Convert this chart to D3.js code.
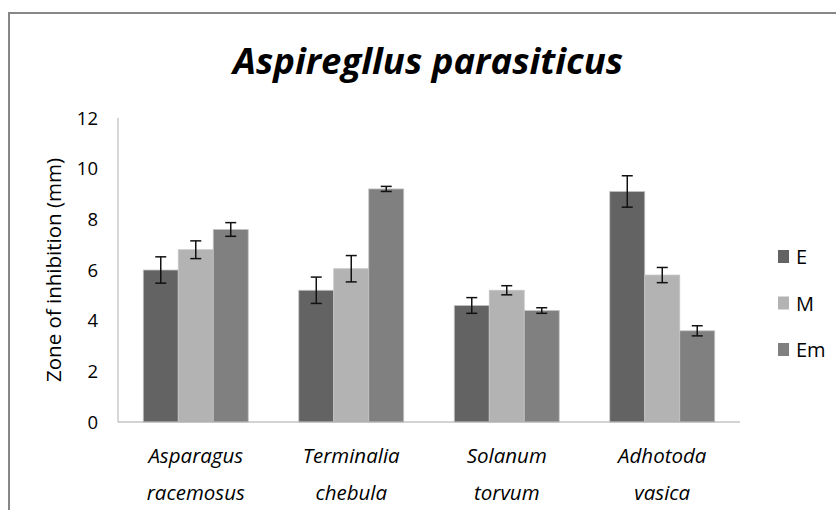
<!DOCTYPE html>
<html>
<head>
<meta charset="utf-8">
<script src="https://cdn.jsdelivr.net/npm/d3@7"></script>
<style>
  html, body { margin: 0; padding: 0; background: #fff; }
  svg { display: block; }
</style>
</head>
<body>
<svg id="chart" width="836" height="510"></svg>
<script>
const categories = [["Asparagus", "racemosus"], ["Terminalia", "chebula"], ["Solanum", "torvum"], ["Adhotoda", "vasica"]];
const seriesNames = ["E", "M", "Em"];
const valuesE  = [6.0, 5.2, 4.6, 9.1];
const valuesM  = [6.8, 6.05, 5.2, 5.8];
const valuesEm = [7.6, 9.2, 4.4, 3.6];
const errE  = [0.52, 0.52, 0.31, 0.62];
const errM  = [0.35, 0.52, 0.18, 0.3];
const errEm = [0.27, 0.1, 0.11, 0.2];
const yTicks = [0, 2, 4, 6, 8, 10, 12];
const colors = ["#636363", "#b3b3b3", "#808080"];

const seriesVals = [valuesE, valuesM, valuesEm];
const seriesErr = [errE, errM, errEm];

const svg = d3.select("#chart");
const W = 836, H = 510;
const plot = { left: 118, right: 740, top: 118, bottom: 422 };

// outer frame
svg.append("path")
  .attr("d", `M9,${H + 5} L9,13 L${W + 5},13`)
  .attr("fill", "none").attr("stroke", "#878787").attr("stroke-width", 2);

// title
svg.append("text")
  .attr("x", 428).attr("y", 74)
  .attr("text-anchor", "middle")
  .attr("font-family", "'Open Sans', sans-serif")
  .attr("font-weight", "bold").attr("font-style", "italic")
  .attr("font-size", 36.5)
  .attr("fill", "#000")
  .text("Aspiregllus parasiticus");

const x0 = d3.scaleBand()
  .domain(d3.range(categories.length))
  .range([plot.left, plot.right])
  .paddingInner(0.325).paddingOuter(0.1625);
const x1 = d3.scaleBand()
  .domain(d3.range(seriesNames.length))
  .range([0, x0.bandwidth()]);
const y = d3.scaleLinear().domain([0, 12]).range([plot.bottom, plot.top]);

// y tick labels
svg.append("g").selectAll("text").data(yTicks).join("text")
  .attr("x", 98).attr("y", d => y(d) + 6.5)
  .attr("text-anchor", "end")
  .attr("font-family", "'Open Sans', sans-serif")
  .attr("font-size", 18.5).attr("fill", "#000")
  .text(d => d);

// y axis title
svg.append("text")
  .attr("transform", `translate(61,${(plot.top + plot.bottom) / 2}) rotate(-90)`)
  .attr("text-anchor", "middle")
  .attr("font-family", "'Open Sans', sans-serif")
  .attr("font-size", 20.5).attr("fill", "#000")
  .text("Zone of inhibition (mm)");

// bars
const groups = svg.append("g").selectAll("g").data(categories).join("g")
  .attr("transform", (d, i) => `translate(${x0(i)},0)`);

groups.each(function(cat, ci) {
  const g = d3.select(this);
  seriesNames.forEach((s, si) => {
    const v = seriesVals[si][ci];
    g.append("rect")
      .attr("x", x1(si)).attr("y", y(v))
      .attr("width", x1.bandwidth()).attr("height", y(0) - y(v))
      .attr("fill", colors[si])
      .attr("stroke", "#c4c4c4").attr("stroke-width", 0.8);
  });
});

// axes lines
svg.append("line")
  .attr("x1", plot.left).attr("x2", plot.left)
  .attr("y1", y(12)).attr("y2", y(0))
  .attr("stroke", "#b0b0b0").attr("stroke-width", 1);
svg.append("line")
  .attr("x1", plot.left).attr("x2", plot.right)
  .attr("y1", y(0)).attr("y2", y(0))
  .attr("stroke", "#a8a8a8").attr("stroke-width", 1.2);

// error bars
groups.each(function(cat, ci) {
  const g = d3.select(this);
  seriesNames.forEach((s, si) => {
    const v = seriesVals[si][ci], e = seriesErr[si][ci];
    const cx = x1(si) + x1.bandwidth() / 2;
    const cap = 5.5;
    g.append("line").attr("x1", cx).attr("x2", cx)
      .attr("y1", y(v + e)).attr("y2", y(v - e))
      .attr("stroke", "#111").attr("stroke-width", 1.5);
    [v + e, v - e].forEach(t => {
      g.append("line").attr("x1", cx - cap).attr("x2", cx + cap)
        .attr("y1", y(t)).attr("y2", y(t))
        .attr("stroke", "#111").attr("stroke-width", 1.5);
    });
  });
});

// category labels
const lab = svg.append("g").selectAll("text").data(categories).join("text")
  .attr("text-anchor", "middle")
  .attr("font-family", "'Open Sans', sans-serif")
  .attr("font-style", "italic")
  .attr("font-size", 20.5).attr("fill", "#000");
lab.each(function(d, i) {
  const t = d3.select(this);
  const cx = x0(i) + x0.bandwidth() / 2;
  t.append("tspan").attr("x", cx).attr("y", 463).text(d[0]);
  t.append("tspan").attr("x", cx).attr("y", 500).text(d[1]);
});

// legend
const leg = svg.append("g").selectAll("g").data(seriesNames).join("g")
  .attr("transform", (d, i) => `translate(778,${250 + i * 46.5})`);
leg.append("rect").attr("width", 11).attr("height", 13)
  .attr("fill", (d, i) => colors[i]);
leg.append("text").attr("x", 18).attr("y", 14)
  .attr("font-family", "'Open Sans', sans-serif")
  .attr("font-size", 20).attr("fill", "#000")
  .text(d => d);
</script>
</body>
</html>
